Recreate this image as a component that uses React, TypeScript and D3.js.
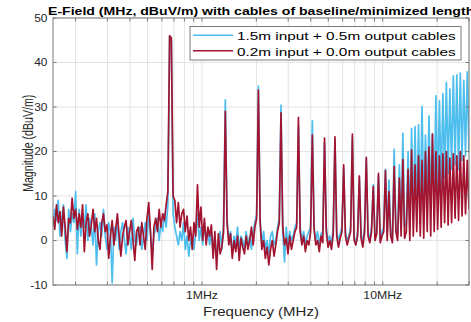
import React from 'react';
import * as d3 from 'd3';

const W = 471;
const H = 322;
const plot = { left: 53, right: 469, top: 18, bottom: 285 };

const freqMin = 0.15; // MHz
const freqMax = 30; // MHz
const yTickValues = [-10, 0, 10, 20, 30, 40, 50];
const xMajorTicks = [1, 10];
const xTickLabels = ['1MHz', '10MHz'];
const xMinorTicks = [0.2, 0.3, 0.4, 0.5, 0.6, 0.7, 0.8, 0.9, 2, 3, 4, 5, 6, 7, 8, 9, 20, 30];
const seriesNames = ['1.5m input + 0.5m output cables', '0.2m input + 0.0m output cables'];
const seriesColors = ['#4DBEEE', '#A2142F'];
const titleText = 'E-Field (MHz, dBuV/m) with cables of baseline/minimized length';
const xLabel = 'Frequency (MHz)';
const yLabel = 'Magnitude (dBuV/m)';

// Measured magnitudes (dBuV/m) on the receiver's log-spaced sweep, 0.15 - 30 MHz
const cableBaseline = [
  3, 7, 4.5, 9, 1, 5, 8, 0, -4, 7,
  2, 6, 4, 11, -3, 7, 1, 5, 3, 8,
  0, 5, 3, -1, 6, -5.5, 2, 4, 1, 7,
  1, -2, 4, 2, -9.5, 3, 0, 5, -2, 2,
  4, 0, -3, 3, 1, -2, 5, 0, -1, 2,
  3, -2, 1, 4, 0, 6, 2, -3, 1, 3,
  5, 0, 4, 2, 6, 3, 8, 46, 45, 6,
  3, 1, -1, 2, 0, 4, -2, 1, -3.5, 0,
  1, -2, 2, 6, 0, 3, -1, 4, 0, 2,
  -1, 2, -3, 1, -4, 0, 2, -2, 4, 31.6,
  5, 0, 2, -3, 1, -1, 3, -2, 1, 0,
  -2, 2, -1, 1, -2, 2, 4, 6, 34.7, 5,
  -1, 2, -2, 0, -3, 1, 2, -1, 0, 3,
  5, 30.4, 2, -4.8, 3, -1, 2, 0, 1, 3,
  4, 25.6, 3, 0, 2, -1, 1, 2, 3, 26.9,
  3, 0, 2, -1, 1.5, 2, 22, 3, 0, 1,
  -1, 3, 22.5, 2, 0, 1.5, 3, 16, 2, 0,
  1, 3, 23, 1, -1, 2, 14, 1, 0, 3,
  18, 2, 0, 3, 12.5, 1, 2, 14.5, 0, 2,
  3, 16, 1, 13.6, 2, 0, 20.5, 3, 1, 17,
  2, 24.1, 3, 4, 20, 3, 25.2, 5, 25.6, 6,
  26, 6, 30.1, 8, 23.7, 7, 28, 9, 24, 10,
  32.5, 11, 31.4, 12, 33, 14, 35.5, 15, 34, 16,
  37, 17, 37.2, 16, 37.6, 18, 36, 19, 37.9, 20,
];

const cableMinimized = [
  5.5, 2.5, 8, 4, 6.5, 1, 7.5, 3, -2.5, 5,
  4, 9.5, 5, 7, 2.5, 6, 3, 8, -2.5, 4,
  6, 1, 3.5, 7, 2, 5, 0, -2, 4, 6,
  2, 3.5, -4, 1, 4.5, -1, 2.5, 6, 1, -3.5,
  1, 3, 4.5, -1, 2, 4.5, 0, -4.5, 2, 3,
  -1, 4, 1, -2, 5, 8.5, 2, -6.5, 3, 5,
  2, 7, 3, 6, 4.5, 8, 11, 46, 45.5, 10,
  9, 4, 8.5, 3, 6, 7, 2, 5.5, 0, 3,
  -2, 4, 1, 12.5, 3, 7.5, 0, 5, -1, 3,
  1, 3.5, -4, 2, -6.5, 1.5, -3, -1.5, 2, 29,
  4, -1, 1.5, -4, 0, -2.5, 1, -4.5, 0.5, -1.5,
  -3, 1, -2, 0, 3, -1, 3, 5, 33.8, 4,
  -2, 0, -4, -1.5, -5.5, -2, 0, -3.5, -1, 2,
  4, 28.7, 3, -1, 0.5, -3, 1, -2, 0, 2,
  3, 27.7, 2, -1, 1, -2.5, 0, -1, 2, 23.7,
  2.5, -1, 0, -2.5, 1, -0.5, 23, 2, -1.5, 0,
  -2, 1.5, 23.3, 1, -1.5, 0.5, 2, 17, 1, -1,
  0.5, 2, 23.9, 0, -1, 1, 14.5, 0.5, -1.5, 2,
  18.7, 1, -0.5, 2, 12.1, 0, 1.5, 15.1, -0.5, 1,
  2, 15.7, 0, 11, 1, -0.5, 16.6, 2, 0, 14,
  1, 18.2, 0.5, 2, 16, 0, 20.3, 1, 17, 2,
  19, 1, 18, 0.5, 20, 2, 21, 1, 23.9, 2,
  20, 2.5, 19, 3, 19.5, 4, 20, 3.5, 18.5, 4,
  19.5, 5, 19, 4.5, 20, 5.5, 19, 6, 18, 7,
];

const FONT = '"Liberation Sans", Arial, Helvetica, sans-serif';

function SText(props: {
  x: number; y: number; sx?: number; size: number; anchor?: string; weight?: string; fill?: string; rotate?: number; children: string;
}) {
  const { x, y, sx = 1, size, anchor = 'start', weight = 'normal', fill = '#262626', rotate = 0, children } = props;
  return (
    <text
      transform={`translate(${x},${y}) scale(${sx},1)${rotate ? ` rotate(${rotate})` : ''}`}
      fontFamily={FONT}
      fontSize={size}
      fontWeight={weight}
      textAnchor={anchor}
      fill={fill}
    >
      {children}
    </text>
  );
}

export default function App() {
  const x = d3.scaleLog().domain([freqMin, freqMax]).range([plot.left, plot.right]);
  const y = d3.scaleLinear().domain([-10, 50]).range([plot.bottom, plot.top]);
  const n = cableBaseline.length;
  const sweep = d3.range(n).map((i) => freqMin * Math.pow(freqMax / freqMin, i / (n - 1)));
  const line = d3
    .line<number>()
    .x((_, i) => x(sweep[i]))
    .y((d) => y(d));
  const series = [cableBaseline, cableMinimized];
  const gridColor = '#e3e3e3';
  const axisColor = '#7a7a7a';
  const tickLen = 3.5;
  const allX = [...xMinorTicks, ...xMajorTicks];

  return (
    <svg
      width={W}
      height={H}
      style={{ position: 'absolute', left: 0, top: 0, background: '#fff' }}
    >
      <rect x={0} y={0} width={W} height={H} fill="#fff" />
      <defs>
        <clipPath id="plotClip">
          <rect x={plot.left} y={plot.top} width={plot.right - plot.left} height={plot.bottom - plot.top} />
        </clipPath>
      </defs>
      {/* grid */}
      {allX.map((v) => (
        <line key={'gx' + v} x1={x(v)} x2={x(v)} y1={plot.top} y2={plot.bottom} stroke={gridColor} strokeWidth={1} />
      ))}
      {yTickValues.map((v) => (
        <line key={'gy' + v} x1={plot.left} x2={plot.right} y1={y(v)} y2={y(v)} stroke={gridColor} strokeWidth={1} />
      ))}
      {/* series */}
      <g clipPath="url(#plotClip)">
        {series.map((s, k) => (
          <path key={k} d={line(s) || ''} fill="none" stroke={seriesColors[k]} strokeWidth={1.7} strokeLinejoin="round" />
        ))}
      </g>
      {/* axes box */}
      <rect
        x={plot.left}
        y={plot.top}
        width={plot.right - plot.left}
        height={plot.bottom - plot.top}
        fill="none"
        stroke={axisColor}
        strokeWidth={1}
      />
      {/* ticks */}
      {allX.map((v) => (
        <g key={'tx' + v}>
          <line x1={x(v)} x2={x(v)} y1={plot.bottom} y2={plot.bottom - tickLen} stroke={axisColor} />
          <line x1={x(v)} x2={x(v)} y1={plot.top} y2={plot.top + tickLen} stroke={axisColor} />
        </g>
      ))}
      {yTickValues.map((v) => (
        <g key={'ty' + v}>
          <line x1={plot.left} x2={plot.left + tickLen} y1={y(v)} y2={y(v)} stroke={axisColor} />
          <line x1={plot.right} x2={plot.right - tickLen} y1={y(v)} y2={y(v)} stroke={axisColor} />
          <SText x={47.5} y={y(v) + 3.6} sx={1.2} size={10} anchor="end">
            {String(v)}
          </SText>
        </g>
      ))}
      {xMajorTicks.map((v, i) => (
        <SText key={'xl' + v} x={x(v)} y={299.3} sx={1.17} size={10.5} anchor="middle">
          {xTickLabels[i]}
        </SText>
      ))}
      {/* axis labels */}
      <SText x={261} y={316} sx={1.2} size={12.5} anchor="middle">
        {xLabel}
      </SText>
      <SText x={33} y={143.3} sx={1.35} size={10.6} anchor="middle" rotate={-90}>
        {yLabel}
      </SText>
      {/* title */}
      <SText x={48} y={15} sx={1.215} size={11.6} weight="bold" fill="#000">
        {titleText}
      </SText>
      {/* legend */}
      <rect x={190} y={26.5} width={271} height={33.5} fill="#fff" stroke={axisColor} strokeWidth={1} />
      {seriesNames.map((name, i) => (
        <g key={name}>
          <line x1={193} x2={233} y1={35.3 + i * 15.5} y2={35.3 + i * 15.5} stroke={seriesColors[i]} strokeWidth={1.5} />
          <SText x={237} y={40 + i * 15.7} sx={1.37} size={11.2} fill="#000">
            {name}
          </SText>
        </g>
      ))}
    </svg>
  );
}
